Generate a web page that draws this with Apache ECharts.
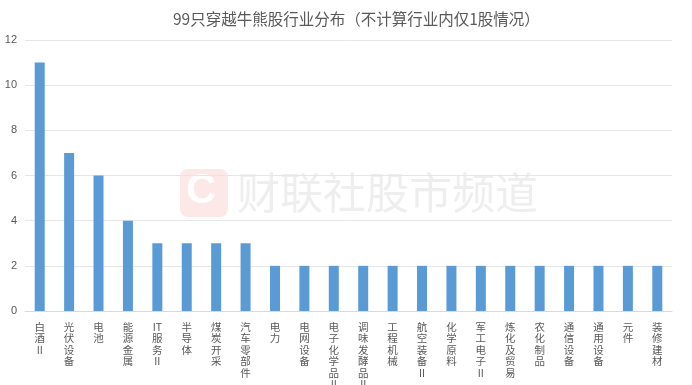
<!DOCTYPE html>
<html><head><meta charset="utf-8">
<script src="https://cdn.jsdelivr.net/npm/echarts@6/dist/echarts.min.js"></script>
<style>html,body{margin:0;padding:0;background:#fff}#c{width:692px;height:385px}</style>
</head><body><div id="c"></div>
<script>
var title = '99只穿越牛熊股行业分布（不计算行业内仅1股情况）';
var categories = ['白酒II','光伏设备','电池','能源金属','IT服务II','半导体','煤炭开采','汽车零部件','电力','电网设备','电子化学品II','调味发酵品II','工程机械','航空装备II','化学原料','军工电子II','炼化及贸易','农化制品','通信设备','通用设备','元件','装修建材'];
var values = [11,7,6,4,3,3,3,3,2,2,2,2,2,2,2,2,2,2,2,2,2,2];
var yTicks = [0,2,4,6,8,10,12];

function stack(s){
  var out=[]; var m = s.match(/II$/); var base = m ? s.slice(0,-2) : s;
  if (base.indexOf('IT')===0){ out.push('IT'); base = base.slice(2); }
  for (var i=0;i<base.length;i++) out.push(base[i]);
  if (m) out.push('II');
  return out.join('\n');
}
var chart = echarts.init(document.getElementById('c'));
chart.setOption({
  animation:false,
  title:{text:title,left:168,top:6,textStyle:{fontSize:15.5,fontWeight:'normal',color:'#595959',fontFamily:'Noto Sans CJK SC'}},
  grid:{left:25,right:20,top:40,bottom:74,containLabel:false,outerBoundsMode:'none'},
  xAxis:{type:'category',data:categories,
    axisLine:{lineStyle:{color:'#d9d9d9'}},axisTick:{show:false},
    axisLabel:{interval:0,rotate:0,hideOverlap:false,color:'#595959',fontSize:10.5,lineHeight:11.5,fontFamily:'Noto Sans CJK SC',margin:10,
      formatter:function(v){return stack(v);}, verticalAlign:'top'}},
  yAxis:{type:'value',min:yTicks[0],max:yTicks[yTicks.length-1],interval:2,
    axisLine:{show:false},axisTick:{show:false},
    splitLine:{lineStyle:{color:'#e6e6e6'}},
    axisLabel:{color:'#595959',fontSize:11,margin:8,fontFamily:'Liberation Sans'}},
  graphic:[
    {type:'rect',left:180,top:169,shape:{width:48,height:48,r:8},style:{fill:'rgba(240,110,110,0.16)'},z:-1,silent:true},
    {type:'text',left:186,top:170,style:{text:'C',fontSize:42,fontWeight:'bold',fill:'rgba(255,255,255,0.95)',fontFamily:'Liberation Sans'},z:-1,silent:true},
    {type:'text',left:237,top:171,style:{text:'财联社股市频道',fontSize:43,fill:'rgba(200,200,200,0.3)',fontFamily:'Noto Sans CJK SC'},z:-1,silent:true}
  ],
  series:[{type:'bar',data:values,barWidth:10,itemStyle:{color:'#5b9bd5'},z:2}]
});
</script></body></html>
